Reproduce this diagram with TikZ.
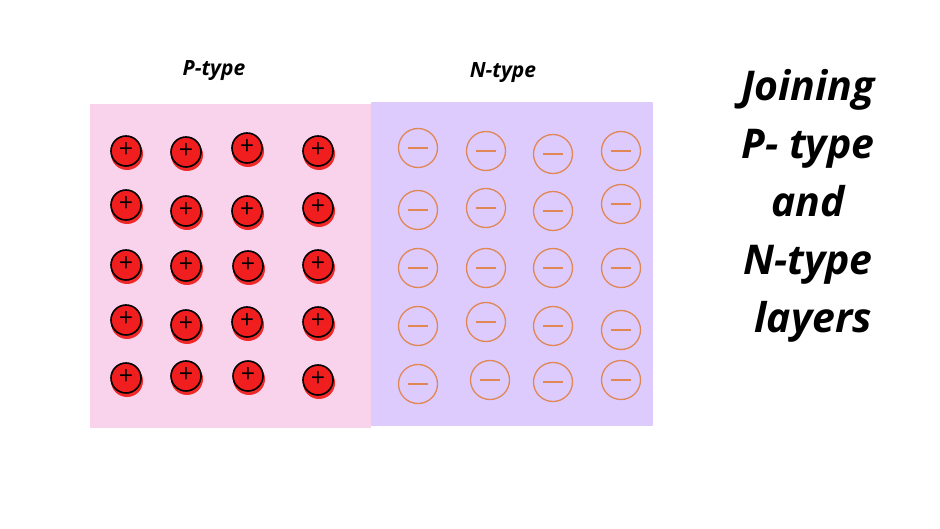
\documentclass[tikz,border=0pt]{standalone}
\usepackage{fontspec}
\setmainfont{Open Sans}
\definecolor{pbg}{RGB}{249,211,236}
\definecolor{nbg}{RGB}{220,203,252}
\definecolor{ionred}{RGB}{240,30,30}
\definecolor{shred}{RGB}{240,40,40}
\definecolor{ora}{RGB}{225,135,85}
\begin{document}
\begin{tikzpicture}[x=1pt,y=-1pt,
  plusion/.style={circle,draw=black,line width=1.6pt,fill=ionred,minimum size=30pt,inner sep=0pt,font=\fontsize{25}{25}\selectfont},
  minusion/.style={circle,draw=ora,line width=1.3pt,minimum size=39pt,inner sep=0pt},
  title/.style={font=\bfseries\itshape\fontsize{21}{21}\selectfont},
  big/.style={font=\bfseries\itshape\fontsize{41}{58}\selectfont,align=center}]
\useasboundingbox (0,0) rectangle (940,529);
\fill[white] (0,0) rectangle (940,529);
\fill[pbg] (90,104) rectangle (371,428);
\fill[nbg] (371,102) rectangle (653,426);
\node[title] (pt) at (214,71) {P-type};
\node[title] (nt) at (503,73) {N-type};
\node[big] (jt) at (808,206) {Joining\\P- type\\and\\N-type\\\ layers};
\foreach \x/\y [count=\i] in {126/151,186/152,247/148,318/151,126/205,186/211,247/211,318/208,126/265,186/266,248/266,318/265,126/320,186/325,247/322,318/322,126/378,186/376,248/376,318/380}{
  \fill[shred] (\x+1,\y+3) circle (16);
  \node[plusion] (p\i) at (\x,\y) {\raisebox{1pt}{+}};
}
\foreach \x/\y [count=\i] in {418/148,486/151,553/154,621/151,418/210,486/208,553/211,621/204,418/268,486/268,553/268,621/268,418/326,486/322,553/326,621/330,418/384,490/380,553/382,621/380}{
  \node[minusion] (m\i) at (\x,\y) {};
  \draw[ora,line width=1.3pt] (\x-10,\y) -- (\x+10,\y);
}
\end{tikzpicture}
\end{document}
